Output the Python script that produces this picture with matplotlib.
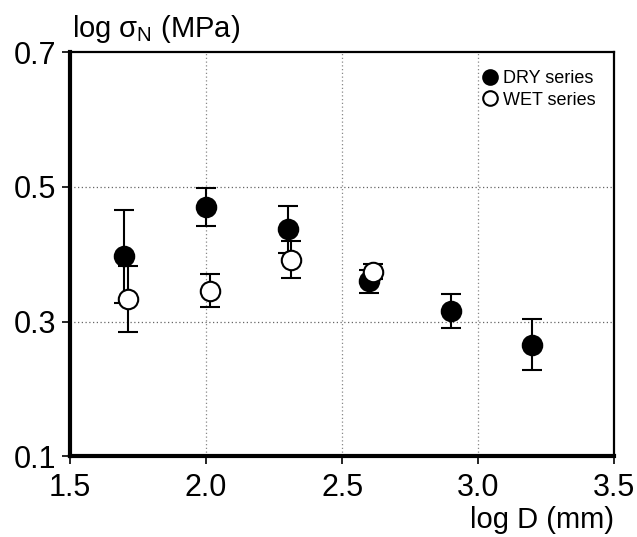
import matplotlib
matplotlib.use("Agg")
import matplotlib.pyplot as plt

plt.rcParams["font.family"] = ["Liberation Sans", "DejaVu Sans"]
plt.rcParams["mathtext.fontset"] = "custom"
plt.rcParams["mathtext.rm"] = "Liberation Sans"
plt.rcParams["mathtext.it"] = "Liberation Sans"

# DRY series
dry_x = [1.70, 2.00, 2.30, 2.60, 2.90, 3.20]
dry_y = [0.397, 0.470, 0.437, 0.360, 0.316, 0.266]
dry_err = [0.069, 0.028, 0.035, 0.017, 0.025, 0.038]

# WET series
wet_x = [1.712, 2.015, 2.311, 2.613]
wet_y = [0.334, 0.346, 0.392, 0.374]
wet_err = [0.049, 0.024, 0.027, 0.011]

x_ticks = [1.5, 2.0, 2.5, 3.0, 3.5]
y_ticks = [0.1, 0.3, 0.5, 0.7]

fig = plt.figure(figsize=(6.37, 5.37), dpi=100)
ax = fig.add_axes([0.110, 0.150, 0.854, 0.753])

# dotted grid lines
for gx in [2.0, 2.5, 3.0]:
    ax.axvline(gx, color="#888888", ls=(0, (1, 2)), lw=0.9, zorder=0)
for gy in [0.3, 0.5]:
    ax.axhline(gy, color="#666666", ls=(0, (1, 2)), lw=0.9, zorder=0)

ax.errorbar(dry_x, dry_y, yerr=dry_err, fmt="o", color="black",
            markersize=14, markeredgewidth=1.5, ecolor="black",
            elinewidth=1.5, capsize=7, capthick=1.5, zorder=3,
            label="DRY series")
ax.errorbar(wet_x, wet_y, yerr=wet_err, fmt="o", color="black",
            markerfacecolor="white", markersize=14, markeredgewidth=1.5,
            ecolor="black", elinewidth=1.5, capsize=7, capthick=1.5,
            zorder=4, label="WET series")

ax.set_xlim(1.5, 3.5)
ax.set_ylim(0.1, 0.7)
ax.set_xticks(x_ticks)
ax.set_xticklabels(["%.1f" % v for v in x_ticks])
ax.set_yticks(y_ticks)
ax.set_yticklabels(["%.1f" % v for v in y_ticks])
ax.tick_params(direction="out", length=5.8, width=1.2, labelsize=22)
ax.tick_params(axis="x", pad=6)
ax.tick_params(axis="y", pad=4)

ax.spines["left"].set_linewidth(3)
ax.spines["bottom"].set_linewidth(3)
ax.spines["top"].set_linewidth(1.6)
ax.spines["right"].set_linewidth(1.6)

fig.text(0.113, 0.931, r"log $\sigma_{N}$ (MPa)", fontsize=21,
         ha="left", va="baseline")
fig.text(0.964, 0.017, "log D (mm)", fontsize=21, ha="right", va="baseline")

handles, labels = ax.get_legend_handles_labels()
handles = [h[0] for h in handles]
leg = ax.legend(handles, labels, loc="upper right", frameon=False,
                fontsize=13, handletextpad=0.25, labelspacing=0.25,
                markerscale=0.75, borderaxespad=0.6, handlelength=1.0)

fig.savefig("out.png", dpi=100)
